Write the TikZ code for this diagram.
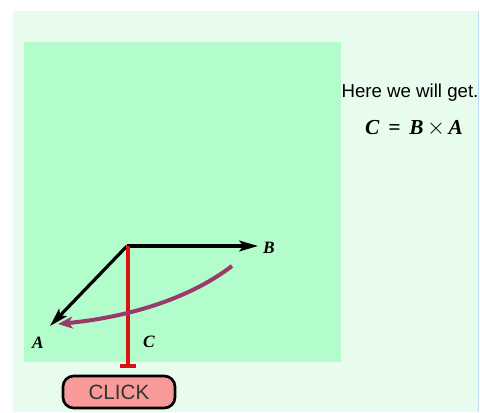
\documentclass[tikz,border=0pt]{standalone}
\usepackage{fontspec}
\setmainfont{Liberation Serif}
\setsansfont{Liberation Sans}
\usetikzlibrary{arrows.meta}
\definecolor{outerbg}{HTML}{E8FCEE}
\definecolor{innerbg}{HTML}{B3FCCB}
\definecolor{edgeblue}{HTML}{BCD8F4}
\definecolor{vecred}{HTML}{DD1111}
\definecolor{curvepurple}{HTML}{9A3A6C}
\definecolor{btnpink}{HTML}{F99A9A}
\tikzset{
  vec/.style={line width=2.4pt, -{Stealth[length=14pt,width=8pt,inset=3pt]}},
  lbl/.style={font=\fontsize{13}{15}\selectfont\bfseries\itshape, inner sep=0pt},
}
\begin{document}
\begin{tikzpicture}[x=0.75pt,y=-0.75pt]
\useasboundingbox (0,0) rectangle (480,412);
\fill[white] (0,0) rectangle (480,412);
\fill[outerbg] (13,11) rectangle (478,412);
\draw[edgeblue, line width=1.2pt] (478.5,11) -- (478.5,412);
\fill[innerbg] (24,42) rectangle (341,362);
% vectors
\coordinate (O) at (127,246);
\coordinate (Bt) at (258,246);
\coordinate (At) at (50,326);
\coordinate (Cb) at (128,366);
\draw[vec] (O) -- (Bt);
\draw[vec] (O) -- (At);
\draw[vecred, line width=2.4pt] (128,246) -- (Cb);
\draw[vecred, line width=2.4pt] ([xshift=-6pt]Cb) -- ([xshift=6pt]Cb);
\coordinate (ps) at (232,266);
\coordinate (pe) at (58,324);
\draw[curvepurple, line width=3pt, -{Stealth[length=11pt,width=9pt,inset=3pt]}] (ps) .. controls (185,302) and (120,318) .. (pe);
\node[lbl] (B) at (269,248) {B};
\node[lbl] (A) at (38,343) {A};
\node[lbl] (C) at (149,342) {C};
% text
\node[font=\sffamily\fontsize{14}{16}\selectfont, inner sep=0pt] (t1) at (410,93) {Here we will get.};
\node[font=\fontsize{16}{18}\selectfont\bfseries\itshape, inner sep=0pt] (t2) at (414,128) {C\, =\, B\,$\times$\,A};
% button
\node[draw=black, line width=2pt, fill=btnpink, rounded corners=8pt, minimum width=84pt, minimum height=24pt, inner sep=0pt, font=\sffamily\fontsize{15.5}{17}\selectfont, text=black!80] (btn) at (119,392) {CLICK};
\end{tikzpicture}
\end{document}
